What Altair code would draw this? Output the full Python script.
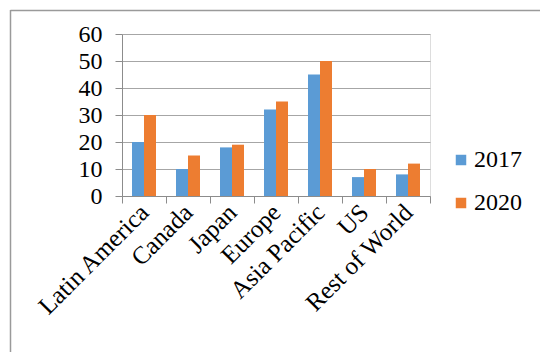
import altair as alt
import pandas as pd

regions = ["Latin America", "Canada", "Japan", "Europe", "Asia Pacific", "US", "Rest of World"]
values_2017 = [20, 10, 18, 32, 45, 7, 8]
values_2020 = [30, 15, 19, 35, 50, 10, 12]
years = ["2017", "2020"]
colors = ["#5B9BD5", "#ED7D31"]

rows = []
for r, a, b in zip(regions, values_2017, values_2020):
    rows.append({"region": r, "year": "2017", "value": a})
    rows.append({"region": r, "year": "2020", "value": b})
df = pd.DataFrame(rows)

FONT = "Liberation Serif"

bars = alt.Chart(df).mark_bar().encode(
    x=alt.X("region:N", sort=regions, title=None,
            scale=alt.Scale(paddingInner=0, paddingOuter=0),
            axis=alt.Axis(labelAngle=315, tickBand="extent", tickSize=7,
                          labelPadding=5, labelFontSize=25, labelFont=FONT,
                          labelColor="#000", domainColor="#8c8c8c",
                          tickColor="#8c8c8c", grid=False, labelAlign="right",
                          labelBaseline="middle", labelOverlap=False)),
    xOffset=alt.XOffset("year:N", sort=years,
                        scale=alt.Scale(paddingInner=0, paddingOuter=0.8333)),
    y=alt.Y("value:Q", title=None,
            scale=alt.Scale(domain=[0, 60], nice=False),
            axis=alt.Axis(values=[0, 10, 20, 30, 40, 50, 60], tickSize=7,
                          labelPadding=13, labelFontSize=24, labelFont=FONT,
                          labelColor="#000", domainColor="#8c8c8c",
                          tickColor="#8c8c8c", gridColor="#a6a6a6",
                          gridWidth=1.2)),
    color=alt.Color("year:N", sort=years, title=None,
                    scale=alt.Scale(domain=years, range=colors),
                    legend=alt.Legend(orient="none", legendX=327, legendY=114,
                                      symbolType="square", symbolSize=110,
                                      symbolStrokeWidth=0,
                                      labelFont=FONT, labelFontSize=24,
                                      labelColor="#000", rowPadding=19,
                                      labelOffset=1)),
)

frame_df = pd.DataFrame({"k": [0]})
frame_left = alt.Chart(frame_df).mark_rule(color="#9a9a9a", strokeWidth=1.5).encode(
    x=alt.value(-111.5), y=alt.value(-24), y2=alt.value(400))
frame_top = alt.Chart(frame_df).mark_rule(color="#9a9a9a", strokeWidth=1.5).encode(
    x=alt.value(-111.5), x2=alt.value(500), y=alt.value(-23.5))

chart = alt.layer(frame_left, frame_top, bars).properties(
    width=308, height=162,
    autosize="none",
    padding={"left": 122, "top": 34, "right": 110, "bottom": 156},
    background="white",
).configure_view(stroke=None).configure(font=FONT)

chart.save("out.html", embed_options={"renderer": "svg", "actions": False})
